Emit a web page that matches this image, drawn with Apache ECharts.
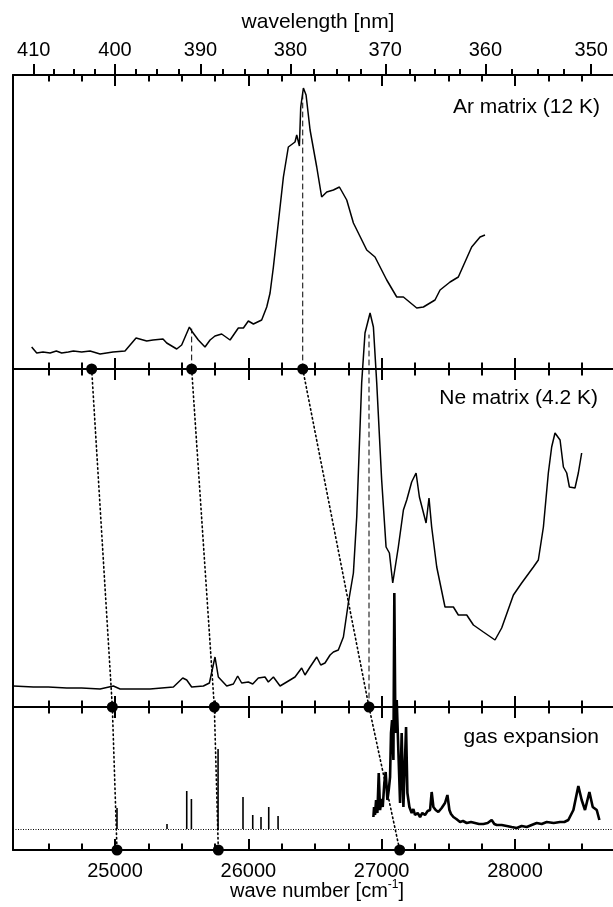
<!DOCTYPE html>
<html>
<head>
<meta charset="utf-8">
<script src="https://cdn.jsdelivr.net/npm/echarts@6/dist/echarts.min.js"></script>
<style>
html, body { margin: 0; padding: 0; background: #fff; }
#main { width: 613px; height: 907px; }
</style>
</head>
<body>
<div id="main"></div>
<script>
var chartDom = document.getElementById('main');
var myChart = echarts.init(chartDom);
var option;

// wave number range shown [cm-1]
var xMin = 24235;
var xMax = 28735;

// tick labels / tick positions
var wnMajor = [25000, 26000, 27000, 28000];
var wnMinor = [24500, 24750, 25250, 25500, 25750, 26250, 26500, 26750, 27250, 27500, 27750, 28250, 28500];
var wlMajor = [410, 400, 390, 380, 370, 360, 350];
var wlMinor = [407.5, 405, 402.5, 397.5, 395, 392.5, 387.5, 385, 382.5, 377.5, 375, 372.5,
  367.5, 365, 362.5, 357.5, 355, 352.5];

// spectra: [wave number, intensity (arb.)]
var arSpectrum = [
  [24375, 22], [24413, 16], [24460, 17], [24513, 16], [24560, 18], [24600, 16], [24650, 17],
  [24688, 18], [24750, 17], [24813, 18], [24888, 15], [24985, 17],
  [25075, 18], [25158, 31], [25238, 28], [25285, 29], [25360, 30], [25388, 26], [25463, 20],
  [25500, 24], [25558, 42], [25575, 38], [25588, 39], [25625, 29], [25675, 22], [25713, 29], [25750, 33],
  [25800, 35], [25863, 29], [25925, 41], [25963, 41], [26000, 48], [26038, 45], [26100, 49],
  [26138, 62], [26163, 76], [26188, 102], [26213, 132], [26263, 192], [26300, 222], [26350, 227],
  [26363, 234], [26383, 223], [26393, 262], [26413, 281], [26433, 274], [26463, 239], [26513, 202],
  [26550, 172], [26588, 177], [26638, 179], [26683, 182], [26738, 169], [26788, 146], [26888, 119],
  [26950, 112], [27038, 89], [27113, 72], [27163, 72], [27263, 61], [27313, 62], [27400, 69],
  [27438, 79], [27513, 87], [27575, 92], [27675, 122], [27738, 132], [27775, 134]
];
var neSpectrum = [
  [24237, 21], [24388, 20], [24500, 20], [24638, 19], [24750, 19], [24888, 18], [24988, 21], [25038, 18],
  [25150, 18], [25263, 18], [25350, 19],
  [25438, 20], [25508, 29], [25538, 27], [25575, 20], [25663, 21], [25708, 24], [25750, 50],
  [25775, 30], [25838, 21], [25888, 23], [25920, 31], [25950, 24], [26000, 25], [26033, 23],
  [26075, 29], [26125, 30], [26150, 25], [26188, 30], [26238, 21], [26288, 25], [26350, 30],
  [26400, 39], [26425, 32], [26463, 40], [26513, 50], [26543, 42], [26575, 44], [26613, 52],
  [26638, 55], [26675, 57], [26713, 70], [26750, 104], [26788, 134], [26813, 190], [26850, 324],
  [26875, 374], [26913, 394], [26938, 380], [26963, 324], [27000, 227], [27033, 160], [27058, 154],
  [27083, 124], [27125, 160], [27163, 197], [27188, 207], [27225, 225], [27258, 234], [27283, 210],
  [27333, 184], [27355, 209], [27375, 180], [27413, 140], [27475, 100], [27538, 100], [27575, 92],
  [27638, 92], [27688, 82], [27763, 75], [27850, 67], [27900, 79], [27988, 112], [28050, 124],
  [28138, 140], [28175, 147], [28213, 180], [28250, 234], [28275, 260], [28300, 274], [28338, 267],
  [28363, 240], [28388, 234], [28408, 220], [28450, 219], [28475, 234], [28500, 254]
];
// gas expansion: isolated sharp lines below 26300 cm-1
var gasLines = [
  [25015, 21], [25390, 5], [25538, 38], [25573, 30], [25773, 80], [25960, 32],
  [26033, 14], [26095, 12], [26153, 22], [26223, 13]
];
// gas expansion: dense part
var gasSpectrum = [
  [26938, 12], [26943, 22], [26950, 14], [26958, 29], [26968, 16], [26978, 56], [26988, 19], [27000, 30],
  [27008, 22], [27020, 46], [27030, 57], [27043, 29], [27053, 39], [27063, 52], [27070, 96], [27078, 109],
  [27088, 69], [27095, 236], [27103, 96], [27113, 129], [27125, 79], [27138, 26], [27150, 96],
  [27163, 22], [27183, 102], [27193, 36], [27208, 22], [27225, 16], [27238, 20], [27250, 14], [27270, 16],
  [27288, 12], [27305, 16], [27325, 14], [27345, 18], [27363, 19], [27375, 37], [27388, 22], [27405, 19],
  [27425, 17], [27450, 21], [27475, 26], [27493, 34], [27508, 19], [27520, 15], [27538, 12], [27560, 10],
  [27588, 7], [27610, 8], [27638, 6], [27670, 7], [27700, 6], [27730, 5], [27763, 5], [27795, 6],
  [27825, 9], [27845, 5], [27863, 4], [27900, 4], [27938, 3], [27975, 2], [28013, 1], [28050, 3],
  [28088, 2], [28125, 4], [28163, 6], [28200, 5], [28238, 7], [28290, 6], [28338, 7],
  [28370, 7], [28400, 9], [28438, 19], [28475, 43], [28500, 29], [28525, 19], [28558, 37], [28583, 22],
  [28613, 19], [28633, 9]
];

// assigned band positions in each medium [cm-1]
var arBands = [24825, 25575, 26408];
var neBands = [24980, 25745, 26905];
var gasBands = [25015, 25775, 27135];
// heights where the dashed markers end
var arMarks = [[25575, 40], [26408, 279]];
var neMarks = [[26905, 372]];

var AR_MAX = 294, NE_MAX = 338, GAS_MIN = -21, GAS_MAX = 122;

var FONT = '"Liberation Sans", Arial, sans-serif';

function tickAxis(gridIndex, position, ticks, length, inside, extra) {
  var ax = {
    type: 'value', gridIndex: gridIndex, position: position, min: xMin, max: xMax,
    axisLine: { show: false, onZero: false },
    axisTick: { show: true, inside: inside, length: length, customValues: ticks,
      lineStyle: { color: '#000', width: 2 } },
    axisLabel: { show: false },
    splitLine: { show: false }
  };
  if (extra) {
    for (var k in extra) ax[k] = extra[k];
  }
  return ax;
}
var lineOn = { show: true, onZero: false, lineStyle: { color: '#000', width: 2 } };

var xAxes = [
  // 0: top frame, wavelength labels
  tickAxis(0, 'top', wlMajor.map(function (l) { return 1e7 / l; }), 11, false, {
    axisLine: lineOn,
    axisLabel: {
      show: true, customValues: wlMajor.map(function (l) { return 1e7 / l; }),
      margin: 15, fontSize: 20, fontFamily: FONT, color: '#000',
      formatter: function (v) { return String(Math.round(1e7 / v)); }
    }
  }),
  tickAxis(0, 'top', wlMinor.map(function (l) { return 1e7 / l; }), 6, false),
  tickAxis(0, 'top', wnMajor, 11, true),
  tickAxis(0, 'top', wnMinor, 6.5, true),
  // 4..7: separator Ar / Ne
  tickAxis(0, 'bottom', wnMajor, 11, false, { axisLine: lineOn }),
  tickAxis(0, 'bottom', wnMinor, 6.5, false),
  tickAxis(1, 'top', wnMajor, 11, false),
  tickAxis(1, 'top', wnMinor, 6.5, false),
  // 8..11: separator Ne / gas
  tickAxis(1, 'bottom', wnMajor, 11, false, { axisLine: lineOn }),
  tickAxis(1, 'bottom', wnMinor, 6.5, false),
  tickAxis(2, 'top', wnMajor, 11, false),
  tickAxis(2, 'top', wnMinor, 6.5, false),
  // 12..13: bottom frame, wave number labels
  tickAxis(2, 'bottom', wnMajor, 11, true, {
    axisLine: lineOn,
    axisLabel: {
      show: true, customValues: wnMajor, margin: 11, fontSize: 20, fontFamily: FONT, color: '#000',
      formatter: function (v) { return String(v); }
    }
  }),
  tickAxis(2, 'bottom', wnMinor, 6.5, true)
];

function yAx(gridIndex, min, max) {
  return {
    type: 'value', gridIndex: gridIndex, min: min, max: max,
    axisLine: lineOn, axisTick: { show: false }, axisLabel: { show: false }, splitLine: { show: false }
  };
}

var black = '#000';
function curve(xi, yi, data, width) {
  return {
    type: 'line', xAxisIndex: xi, yAxisIndex: yi, data: data, symbol: 'none', clip: false,
    lineStyle: { color: black, width: width || 1.5 }, animation: false, z: 3
  };
}
function guide(xi, yi, data, dash, width) {
  return {
    type: 'line', xAxisIndex: xi, yAxisIndex: yi, data: data, symbol: 'none', clip: false,
    lineStyle: { color: black, width: width, type: dash, cap: 'round' }, animation: false, z: 2
  };
}
function dots(xi, yi, data) {
  return {
    type: 'scatter', xAxisIndex: xi, yAxisIndex: yi, data: data, symbolSize: 11, clip: false,
    itemStyle: { color: black, opacity: 1 }, animation: false, z: 5
  };
}

var series = [
  curve(4, 0, arSpectrum),
  curve(8, 1, neSpectrum),
  curve(12, 2, gasSpectrum, 2.6),
  {
    type: 'bar', xAxisIndex: 12, yAxisIndex: 2, data: gasLines, barWidth: 1.6, clip: false,
    itemStyle: { color: black }, animation: false, z: 3,
    markLine: {
      silent: true, symbol: 'none', label: { show: false }, animation: false,
      lineStyle: { color: black, width: 1, type: [1, 1.5] },
      data: [{ yAxis: 0 }]
    }
  }
];
arMarks.forEach(function (m) {
  series.push(guide(4, 0, [[m[0], 0], [m[0], m[1]]], [5, 4], 1));
});
neMarks.forEach(function (m) {
  series.push(guide(8, 1, [[m[0], 0], [m[0], m[1]]], [5, 4], 1));
});
arBands.forEach(function (w, i) {
  series.push(guide(8, 1, [[w, NE_MAX], [neBands[i], 0]], [1.5, 3], 1.6));
  series.push(guide(12, 2, [[neBands[i], GAS_MAX], [gasBands[i], GAS_MIN]], [1.5, 3], 1.6));
});
series.push(dots(4, 0, arBands.map(function (w) { return [w, 0]; })));
series.push(dots(8, 1, neBands.map(function (w) { return [w, 0]; })));
series.push(dots(12, 2, gasBands.map(function (w) { return [w, GAS_MIN]; })));

var textStyle = function (txt, x, y, align) {
  return {
    type: 'text', x: x, y: y, z: 10,
    style: { text: txt, fill: '#000', font: '21px ' + FONT, align: align, verticalAlign: 'middle' }
  };
};

option = {
  animation: false,
  backgroundColor: '#fff',
  grid: [
    { left: 13, right: 0, top: 75, height: 294 },
    { left: 13, right: 0, top: 369, height: 338 },
    { left: 13, right: 0, top: 707, height: 143 }
  ],
  xAxis: xAxes,
  yAxis: [yAx(0, 0, AR_MAX), yAx(1, 0, NE_MAX), yAx(2, GAS_MIN, GAS_MAX)],
  series: series,
  graphic: [
    textStyle('wavelength [nm]', 318, 22, 'center'),
    textStyle('Ar matrix (12 K)', 600, 107, 'right'),
    textStyle('Ne matrix (4.2 K)', 598, 398, 'right'),
    textStyle('gas expansion', 599, 737, 'right'),
    {
      type: 'text', x: 317, y: 891, z: 10,
      style: {
        text: '{a|wave number [cm}{s|-1}{a|]}', align: 'center', verticalAlign: 'middle',
        rich: {
          a: { font: '20px ' + FONT, fill: '#000', lineHeight: 24 },
          s: { font: '12px ' + FONT, fill: '#000', lineHeight: 24, verticalAlign: 'top' }
        }
      }
    }
  ]
};

option && myChart.setOption(option);
</script>
</body>
</html>
